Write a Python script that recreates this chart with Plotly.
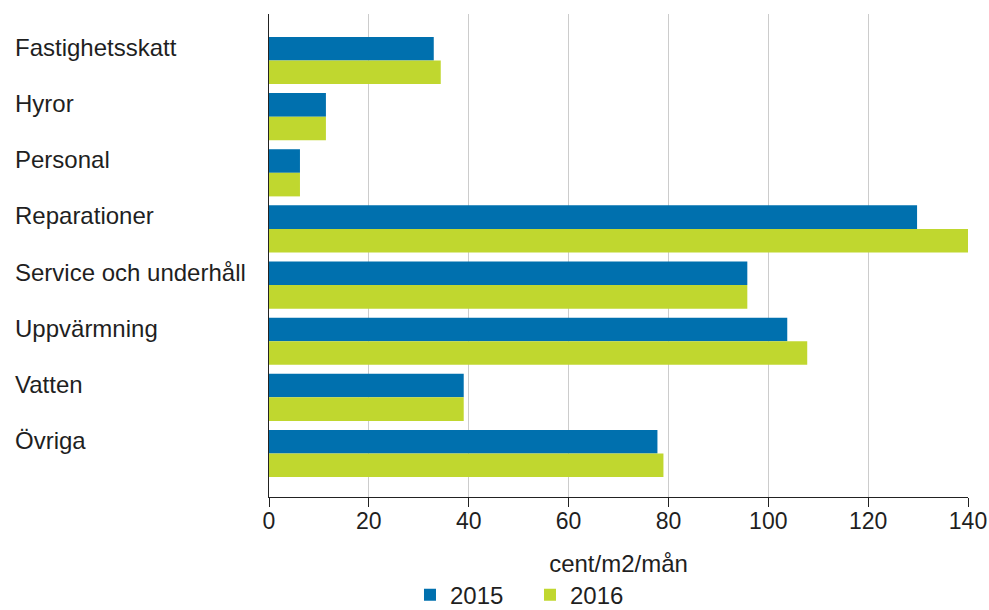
import plotly.graph_objects as go

categories = ["Fastighetsskatt", "Hyror", "Personal", "Reparationer",
              "Service och underhåll", "Uppvärmning", "Vatten", "Övriga"]
values_2015 = [33.0, 11.4, 6.2, 129.8, 95.8, 103.8, 39.0, 77.8]
values_2016 = [34.4, 11.4, 6.2, 140.0, 95.8, 107.8, 39.0, 79.0]
series_names = ["2015", "2016"]
x_ticks = [0, 20, 40, 60, 80, 100, 120, 140]
x_title = "cent/m2/mån"

FONT = "Liberation Sans, Arial, sans-serif"
TXT = "#1f1f1f"

fig = go.Figure()
fig.add_trace(go.Bar(y=categories, x=values_2015, name=series_names[0], orientation="h",
                     marker=dict(color="#0070AE", line=dict(width=0))))
fig.add_trace(go.Bar(y=categories, x=values_2016, name=series_names[1], orientation="h",
                     marker=dict(color="#C0D72F", line=dict(width=0))))

# left-aligned category labels, drawn from the categories list
for cat in categories:
    fig.add_annotation(x=-0.3662, xref="paper", y=cat, yref="y", text=cat,
                       showarrow=False, xanchor="left", yanchor="middle", yshift=13,
                       font=dict(family=FONT, size=24, color=TXT))

fig.update_layout(
    width=989, height=610,
    barmode="group", bargap=0.16, bargroupgap=0.0,
    plot_bgcolor="white", paper_bgcolor="white",
    margin=dict(l=269, r=21, t=14, b=113, autoexpand=False),
    font=dict(family=FONT, size=23, color=TXT),
    xaxis=dict(range=[0, 140], tickvals=x_ticks, showgrid=True, gridcolor="#cccccc", gridwidth=1,
               zeroline=False, showline=True, linecolor="#222", linewidth=1,
               ticks="outside", ticklen=9, tickcolor="#222", ticklabelstandoff=-6,
               title=dict(text=x_title, font=dict(size=24), standoff=22),
               tickfont=dict(size=23)),
    yaxis=dict(range=[7.775, -0.829], showline=True, linecolor="#222", linewidth=1,
               ticks="", showgrid=False, showticklabels=False),
    legend=dict(orientation="h", x=0.2017, xanchor="left", y=-0.203, yanchor="middle",
                font=dict(size=24), itemwidth=30, traceorder="normal",
                entrywidth=75, entrywidthmode="pixels"),
    showlegend=True,
)
fig.update_xaxes(automargin=False)
fig.update_yaxes(automargin=False)
fig.write_html("out.html", config={"displayModeBar": False},
               post_script="document.body.style.margin='0';")
